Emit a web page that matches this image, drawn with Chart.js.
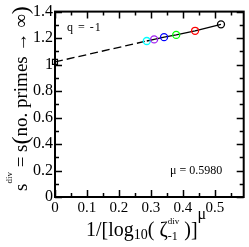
<!DOCTYPE html>
<html>
<head>
<meta charset="utf-8">
<script src="https://cdn.jsdelivr.net/npm/chart.js@4/dist/chart.umd.min.js"></script>
<style>
  body { margin: 0; background: #fff; }
  canvas { display: block; }
</style>
</head>
<body>
<canvas id="chart" width="249" height="247"></canvas>
<script>
// data
const pointX = [0.287, 0.310, 0.341, 0.379, 0.438, 0.519];
const pointY = [1.178, 1.190, 1.207, 1.224, 1.255, 1.304];
const pointColors = ['#00ffff', '#a020f0', '#0000ff', '#00ff00', '#ff0000', '#000000'];
const limitX = [0, 0.287];      // extrapolation to infinite primes
const limitY = [1.02, 1.178];
const xTicks = [0, 0.1, 0.2, 0.3, 0.4, 0.5];
const yTicks = [0, 0.2, 0.4, 0.6, 0.8, 1, 1.2, 1.4];
const xMinor = [0.05, 0.15, 0.25, 0.35, 0.45, 0.55];
const yMinor = [0.1, 0.3, 0.5, 0.7, 0.9, 1.1, 1.3];

const serif = "'Liberation Serif', 'DejaVu Serif', serif";

// draws pieces of text one after another, {t, size, dy}
function drawRich(c, pieces, x, y) {
    let cx = x;
    pieces.forEach(function(p){
        if (p.stack) {
            let w = 0;
            p.stack.forEach(function(s){
                c.font = s.size + 'px ' + serif;
                c.fillText(s.t, cx, y + s.dy);
                w = Math.max(w, c.measureText(s.t).width);
            });
            cx += w;
        } else {
            c.font = p.size + 'px ' + serif;
            c.fillText(p.t, cx, y + (p.dy || 0));
            cx += c.measureText(p.t).width;
        }
    });
}

const framePlugin = {
    id: 'frame',
    afterDraw(chart) {
        const c = chart.ctx;
        const a = chart.chartArea;
        const xs = chart.scales.x, ys = chart.scales.y;
        c.save();
        c.strokeStyle = '#000';
        c.lineWidth = 2;
        c.strokeRect(a.left, a.top, a.right - a.left, a.bottom - a.top);

        // inward ticks on all four sides
        c.lineWidth = 1.5;
        c.beginPath();
        function xt(v, len) {
            const px = Math.round(xs.getPixelForValue(v)) + 0.5;
            c.moveTo(px, a.bottom); c.lineTo(px, a.bottom - len);
            c.moveTo(px, a.top); c.lineTo(px, a.top + len);
        }
        function yt(v, len) {
            const py = Math.round(ys.getPixelForValue(v)) + 0.5;
            c.moveTo(a.left, py); c.lineTo(a.left + len, py);
            c.moveTo(a.right, py); c.lineTo(a.right - len, py);
        }
        xTicks.forEach(v => xt(v, 7));
        xMinor.forEach(v => xt(v, 4));
        yTicks.forEach(v => yt(v, 7));
        yMinor.forEach(v => yt(v, 4));
        c.stroke();

        c.fillStyle = '#000';
        c.textBaseline = 'alphabetic';
        c.textAlign = 'left';

        // labels inside the plot
        c.font = '12px ' + serif;
        c.letterSpacing = '1px';
        c.fillText('q = -1', a.left + 12, a.top + 19);
        c.letterSpacing = '0px';
        c.fillText('\u03bc = 0.5980', a.left + 115, a.top + 162);

        // x axis title
        drawRich(c, [
            {t: '1/[log', size: 20},
            {t: '10', size: 14, dy: 3},
            {t: '( \u03b6', size: 20},
            {stack: [{t: 'div', size: 9, dy: -12}, {t: '-1', size: 12, dy: 4}]},
            {t: ' )]', size: 20},
            {t: '\u03bc', size: 16, dy: -17}
        ], 86, 236);

        // y axis title, rotated
        c.translate(27, 191);
        c.rotate(-Math.PI / 2);
        drawRich(c, [
            {t: 's', size: 19},
            {stack: [{t: 'div', size: 9, dy: -15}]},
            {t: ' = s', size: 19},
            {t: '(', size: 24, dy: 1},
            {t: 'no. primes \u2192 \u221e', size: 19},
            {t: ')', size: 24, dy: 1}
        ], 0, 0);
        c.restore();
    }
};

new Chart(document.querySelector('#chart').getContext('2d'), {
    type: 'scatter',
    data: {
        datasets: [
            {
                data: pointX.map((x, i) => ({x: x, y: pointY[i]})),
                showLine: true,
                clip: false,
                borderColor: '#000',
                borderWidth: 1.3,
                pointStyle: 'circle',
                pointRadius: 3.5,
                pointBorderWidth: 1.3,
                pointBorderColor: pointColors,
                pointBackgroundColor: 'rgba(0,0,0,0)'
            },
            {
                data: limitX.map((x, i) => ({x: x, y: limitY[i]})),
                showLine: true,
                clip: false,
                borderColor: '#000',
                borderWidth: 1.3,
                borderDash: [8, 4],
                pointStyle: 'rect',
                pointRadius: [3.5, 0],
                pointBorderWidth: 1.2,
                pointBorderColor: '#000',
                pointBackgroundColor: 'rgba(0,0,0,0)'
            }
        ]
    },
    options: {
        responsive: false,
        animation: false,
        layout: { padding: { left: 0, right: 5, top: 5, bottom: 0 } },
        plugins: { legend: { display: false }, tooltip: { enabled: false } },
        scales: {
            x: {
                type: 'linear', min: 0, max: 0.59,
                grid: { display: false, drawTicks: false },
                border: { display: false },
                ticks: { color: '#000', padding: 2, font: { family: serif, size: 15 },
                    callback: v => String(+v.toFixed(1)) },
                afterBuildTicks(s) { s.ticks = xTicks.map(v => ({value: v})); },
                afterFit(s) { s.height = 50; }
            },
            y: {
                type: 'linear', min: 0, max: 1.4,
                grid: { display: false, drawTicks: false },
                border: { display: false },
                ticks: { color: '#000', padding: 2, font: { family: serif, size: 16 },
                    callback: v => String(+v.toFixed(1)) },
                afterBuildTicks(s) { s.ticks = yTicks.map(v => ({value: v})); },
                afterFit(s) { s.width = 55; }
            }
        }
    },
    plugins: [framePlugin]
});
</script>
</body>
</html>
